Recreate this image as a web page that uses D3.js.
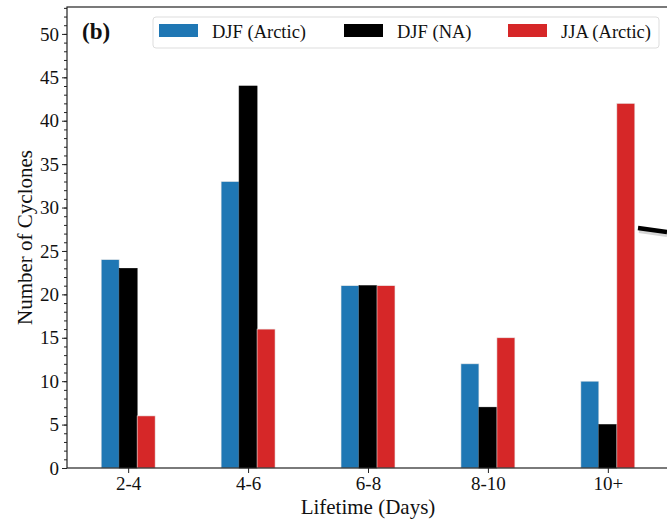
<!DOCTYPE html>
<html lang="en">
<head>
	<meta charset="UTF-8">
	<title>Cyclone lifetime</title>
	<style>
		body{ margin:0; background:#fff; }
		.axis path, .axis line{ fill:none; stroke:#222; }
		.axis text{ font-family:"Liberation Serif", serif; font-size:19px; fill:#111; }
	</style>
</head>
<body>
	<script src="https://d3js.org/d3.v7.min.js"></script>
	<script>
		var categories = ['2-4', '4-6', '6-8', '8-10', '10+'];
		var djfArctic = [24, 33, 21, 12, 10];
		var djfNA = [23, 44, 21, 7, 5];
		var jjaArctic = [6, 16, 21, 15, 42];
		var seriesNames = ['DJF (Arctic)', 'DJF (NA)', 'JJA (Arctic)'];
		var colors = ['#1f77b4', '#000000', '#d62728'];
		var yTicks = [0, 5, 10, 15, 20, 25, 30, 35, 40, 45, 50];

		var width = 667, height = 520;
		var padL = 67, padT = 7, padB = 468, padR = 669;
		var series = [djfArctic, djfNA, jjaArctic];

		var svg = d3.select('body').append('svg')
			.attr('width', width).attr('height', height);

		// x: category index, matplotlib-like padding
		var x = d3.scaleLinear().domain([-0.51, 4.51]).range([padL, padR]);
		var y = d3.scaleLinear().domain([0, 53.1]).range([padB, padT]);
		var barW = 0.15;

		var groups = svg.append('g');
		series.forEach(function(vals, s){
			groups.selectAll('rect.s' + s)
				.data(vals)
				.enter()
				.append('rect')
				.attr('class', 's' + s)
				.attr('x', function(d, i){ return x(i + (s - 1.5) * barW); })
				.attr('y', function(d){ return y(d); })
				.attr('width', x(barW) - x(0))
				.attr('height', function(d){ return y(0) - y(d); })
				.attr('fill', colors[s])
				.attr('stroke', s == 1 ? '#000' : '#e8e8e8')
				.attr('stroke-width', 0.6);
		});

		// axes
		var yAxis = d3.axisLeft(y).tickValues(yTicks).tickSize(5).tickPadding(3);
		svg.append('g').attr('class', 'axis')
			.attr('transform', 'translate(' + padL + ',0)')
			.call(yAxis)
			.call(function(g){ g.select('.domain').remove(); });
		var yMinor = d3.axisLeft(y).tickValues(d3.range(0, 54)).tickSize(3).tickFormat('');
		svg.append('g').attr('class', 'axis')
			.attr('transform', 'translate(' + padL + ',0)')
			.call(yMinor)
			.call(function(g){ g.select('.domain').remove(); });

		var xAxis = d3.axisBottom(x).tickValues(d3.range(categories.length))
			.tickFormat(function(i){ return categories[i]; }).tickSize(5).tickPadding(4);
		svg.append('g').attr('class', 'axis')
			.attr('transform', 'translate(0,' + padB + ')')
			.call(xAxis)
			.call(function(g){ g.select('.domain').remove(); });

		// spines
		svg.append('rect')
			.attr('x', padL).attr('y', padT)
			.attr('width', padR - padL).attr('height', padB - padT)
			.attr('fill', 'none').attr('stroke', '#222').attr('stroke-width', 1.2);

		// labels
		svg.append('text')
			.attr('transform', 'translate(32,' + ((padT + padB) / 2) + ') rotate(-90)')
			.attr('text-anchor', 'middle')
			.style('font-family', 'Liberation Serif, serif').style('font-size', '21px').attr('fill', '#111')
			.text('Number of Cyclones');
		svg.append('text')
			.attr('x', 368).attr('y', 514)
			.attr('text-anchor', 'middle')
			.style('font-family', 'Liberation Serif, serif').style('font-size', '21px').attr('fill', '#111')
			.text('Lifetime (Days)');
		svg.append('text')
			.attr('x', 82).attr('y', 39)
			.style('font-family', 'Liberation Serif, serif').style('font-size', '23px')
			.style('font-weight', 'bold').attr('fill', '#111')
			.text('(b)');

		// legend
		var lg = svg.append('g');
		lg.append('rect')
			.attr('x', 153).attr('y', 17).attr('width', 506).attr('height', 31)
			.attr('rx', 3).attr('fill', '#fff').attr('stroke', '#ddd');
		var lx = [159, 344, 508];
		seriesNames.forEach(function(n, i){
			lg.append('rect').attr('x', lx[i]).attr('y', 24).attr('width', 39).attr('height', 13)
				.attr('fill', colors[i]);
			lg.append('text').attr('x', lx[i] + 53).attr('y', 38)
				.style('font-family', 'Liberation Serif, serif').style('font-size', '18.5px').attr('fill', '#111')
				.text(n);
		});

		// annotation line entering from the right
		svg.append('line')
			.attr('x1', 639).attr('y1', 231).attr('x2', 667).attr('y2', 235)
			.attr('stroke', '#bbb').attr('stroke-width', 4).attr('opacity', 0.6);
		svg.append('line')
			.attr('x1', 638).attr('y1', 228).attr('x2', 667).attr('y2', 232)
			.attr('stroke', '#000').attr('stroke-width', 4.5);
	</script>
</body>
</html>
